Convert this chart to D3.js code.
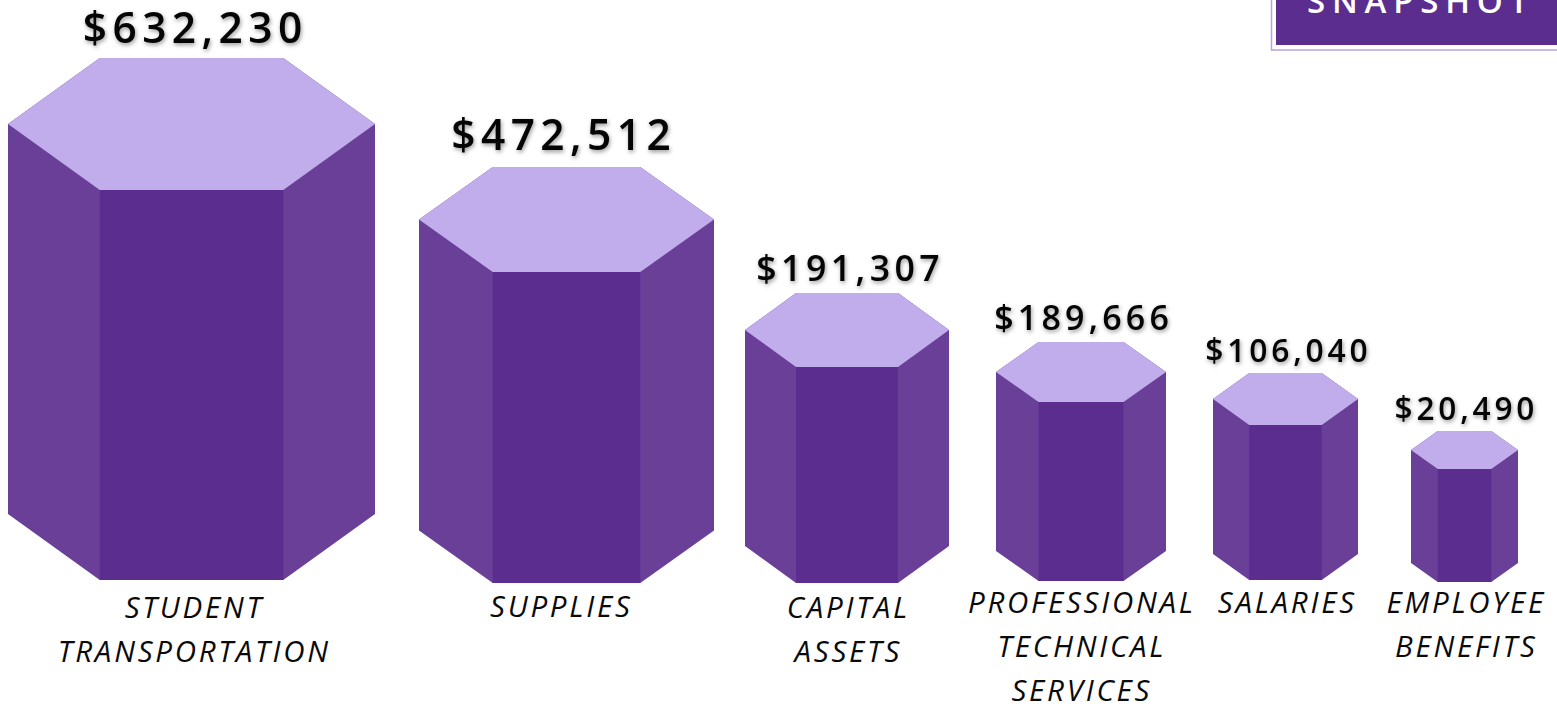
<!DOCTYPE html>
<html><head><meta charset="utf-8">
<script src="https://cdn.jsdelivr.net/npm/d3@7/dist/d3.min.js"></script>
<style>
html,body{margin:0;padding:0;background:#fff;overflow:hidden}
svg{display:block}
.value{font-family:"Open Sans",sans-serif;font-weight:600;fill:#050505;filter:drop-shadow(1px 2px 2px rgba(0,0,0,.4))}
.cat{font-family:"Open Sans",sans-serif;font-style:italic;font-weight:400;fill:#0a0a0a}
</style></head><body>
<svg id="c" width="1557" height="706"></svg>
<script>
// Data
const categories=["Student Transportation","Supplies","Capital Assets","Professional Technical Services","Salaries","Employee Benefits"];
const amounts=[632230,472512,191307,189666,106040,20490];
const labelLines=[["STUDENT","TRANSPORTATION"],["SUPPLIES"],["CAPITAL","ASSETS"],["PROFESSIONAL","TECHNICAL","SERVICES"],["SALARIES"],["EMPLOYEE","BENEFITS"]];
const badgeTitle="SNAPSHOT";

// Layout calibration (the graphic is an infographic with non-linear sizing)
const centers=[191.5,566.5,847,1081,1285.5,1464.5];
const baselines=[580,583,583,581,580,582];
const widthsPx=[367,295,204,170,145,107];
const topsPx=[58,167,293,342,373,431];
const capDepthPx=[132,105,74,60,52,38];
const valueCenter=[192.5,561,848,1081.5,1286.5,1464.5];
const valueBaseline=[43,150,281,330,362,420];
const valueFont=[42.5,42.5,35.7,34,31.8,31.6];
const valueSpacing=[5.4,5.4,4.4,4.2,3.8,3.8];
const labelCenter=[193,560,847,1080.5,1286,1465];
const labelFont=[29.5,29.5,29.5,29.5,29.5,29.5];
const labelY=[618,617,618,613,613,613];

const color={top:"#c1adeb",front:"#5b2d8e",side:"#6a3f98"};

const svg=d3.select("#c");
const x=d3.scaleOrdinal(categories,centers);
const base=d3.scaleOrdinal(categories,baselines);
const asc=d3.range(amounts.length).sort((a,b)=>amounts[a]-amounts[b]);
const w=d3.scaleLinear(asc.map(i=>amounts[i]),asc.map(i=>widthsPx[i]));
const topY=d3.scaleLinear(asc.map(i=>amounts[i]),asc.map(i=>topsPx[i]));
const depth=d3.scaleLinear(asc.map(i=>amounts[i]),asc.map(i=>capDepthPx[i]));
const line=d3.line();
const rows=categories.map((c,i)=>({c,v:amounts[i],i}));

const g=svg.selectAll("g.hex").data(rows).join("g").attr("class","hex");
function geom(d){
  const W=w(d.v),cx=x(d.c),t=topY(d.v),D=depth(d.v),b=base(d.c);
  const L=cx-W/2,R=cx+W/2,il=cx-W/4,ir=cx+W/4;
  return {L,R,il,ir,t,m:t+D/2,f:t+D,b,sb:b-D/2};
}
// body silhouette in side colour, so no seams show between faces
g.append("path").attr("fill",color.side).attr("d",d=>{const p=geom(d);
  return line([[p.L,p.m],[p.il,p.t],[p.ir,p.t],[p.R,p.m],[p.R,p.sb],[p.ir,p.b],[p.il,p.b],[p.L,p.sb]])+"Z";});
g.append("path").attr("fill",color.front).attr("d",d=>{const p=geom(d);
  return line([[p.il,p.f],[p.ir,p.f],[p.ir,p.b],[p.il,p.b]])+"Z";});
g.append("path").attr("fill",color.top).attr("d",d=>{const p=geom(d);
  return line([[p.L,p.m],[p.il,p.t],[p.ir,p.t],[p.R,p.m],[p.ir,p.f],[p.il,p.f]])+"Z";});

const fmt=d3.format("$,");
g.append("text").attr("class","value")
 .attr("x",d=>valueCenter[d.i]+valueSpacing[d.i]/2)
 .attr("y",d=>valueBaseline[d.i])
 .attr("text-anchor","middle")
 .attr("font-size",d=>valueFont[d.i])
 .attr("letter-spacing",d=>valueSpacing[d.i])
 .text(d=>fmt(d.v));

g.each(function(d){
  const t=d3.select(this).append("text").attr("class","cat")
    .attr("text-anchor","middle").attr("font-size",labelFont[d.i]).attr("letter-spacing",2.75);
  labelLines[d.i].forEach((s,j)=>{
    t.append("tspan").attr("x",labelCenter[d.i]+1.3).attr("y",labelY[d.i]+j*44).text(s);
  });
});

// Badge
const badge=svg.append("g");
badge.append("rect").attr("x",1271.5).attr("y",-10).attr("width",300).attr("height",60)
  .attr("fill","#fff").attr("stroke","#b9a3d8").attr("stroke-width",1.5);
badge.append("rect").attr("x",1276).attr("y",-10).attr("width",300).attr("height",55).attr("fill",color.front);
badge.append("text").text(badgeTitle).attr("x",1421).attr("y",13).attr("text-anchor","middle")
  .attr("font-family","Open Sans, sans-serif").attr("font-weight",600).attr("font-size",33)
  .attr("letter-spacing",6.8).attr("fill","#fff");
</script></body></html>
